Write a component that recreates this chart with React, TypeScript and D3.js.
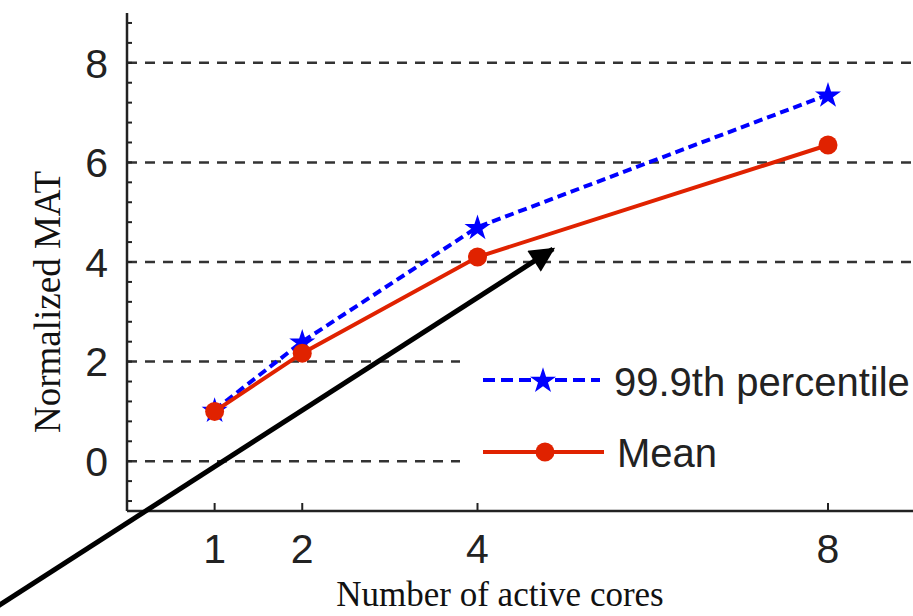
import React from "react";
import * as d3 from "d3";

const cores = [1, 2, 4, 8];
const p999 = [1.03, 2.4, 4.7, 7.36];
const mean = [1.0, 2.17, 4.1, 6.35];
const yTicks = [0, 2, 4, 6, 8];
const seriesNames = ["99.9th percentile", "Mean"];

const W = 913;
const H = 616;

const App = () => {
  const x = d3.scaleLinear().domain([0, 8]).range([127, 828]);
  const y = d3.scaleLinear().domain([-1, 9]).range([511, 13]);

  const line = d3
    .line<number>()
    .x((d, i) => x(cores[i]))
    .y((d) => y(d));

  const star = d3.symbol(d3.symbolStar, 210)();
  const minor = d3.range(-2, 23).map((k) => k * 0.4).filter((v) => v > -1 && v < 9);

  const tickFont = "'Liberation Sans', Arial, sans-serif";
  const serif = "'Liberation Serif', 'Times New Roman', serif";
  const blue = "#0000ff";
  const red = "#e02200";

  return (
    <svg width={W} height={H} style={{ position: "absolute", left: 0, top: 0 }}>
      <defs>
        <marker id="head" viewBox="0 0 10 10" refX="9" refY="5" markerWidth="5.5" markerHeight="5" orient="auto" markerUnits="strokeWidth">
          <path d="M0,0 L10,5 L0,10 z" fill="#000" />
        </marker>
      </defs>
      <rect width={W} height={H} fill="#fff" />

      {/* grid */}
      {yTicks.map((t) => (
        <line key={t} x1={x(0)} x2={W} y1={y(t)} y2={y(t)} stroke="#333" strokeWidth={2.5} strokeDasharray="10,8" />
      ))}

      {/* legend box covers grid */}
      <rect x={460} y={325} width={W - 460} height={170} fill="#fff" />

      {/* axes */}
      <line x1={x(0)} x2={x(0)} y1={y(9)} y2={y(-1)} stroke="#222" strokeWidth={2.5} />
      <line x1={x(0)} x2={W} y1={y(-1)} y2={y(-1)} stroke="#222" strokeWidth={2.5} />
      {minor.map((v, i) => (
        <line key={i} x1={x(0)} x2={x(0) + 5} y1={y(v)} y2={y(v)} stroke="#222" strokeWidth={2} />
      ))}
      {yTicks.map((t) => (
        <text key={t} x={108} y={y(t)} dy="0.36em" textAnchor="end" fontFamily={tickFont} fontSize={41} fill="#222">
          {t}
        </text>
      ))}
      {cores.map((c) => (
        <g key={c}>
          <line x1={x(c)} x2={x(c)} y1={y(-1)} y2={y(-1) - 8} stroke="#222" strokeWidth={2} />
          <text x={x(c)} y={563} textAnchor="middle" fontFamily={tickFont} fontSize={41} fill="#222">
            {c}
          </text>
        </g>
      ))}

      {/* axis titles */}
      <text x={500} y={606} textAnchor="middle" fontFamily={serif} fontSize={35} fill="#111">
        Number of active cores
      </text>
      <text transform={`translate(60,302) rotate(-90)`} textAnchor="middle" fontFamily={serif} fontSize={37} fill="#111">
        Normalized MAT
      </text>

      {/* series */}
      <path d={line(p999) || ""} fill="none" stroke={blue} strokeWidth={4} strokeDasharray="9,5" />
      {p999.map((v, i) => (
        <path key={i} d={star || ""} transform={`translate(${x(cores[i])},${y(v) + 1})`} fill={blue} />
      ))}
      <path d={line(mean) || ""} fill="none" stroke={red} strokeWidth={4} />
      {mean.map((v, i) => (
        <circle key={i} cx={x(cores[i])} cy={y(v)} r={9.5} fill={red} />
      ))}

      {/* legend */}
      <line x1={483} x2={600} y1={380} y2={380} stroke={blue} strokeWidth={4} strokeDasharray="12,6" />
      <path d={star || ""} transform="translate(543,381)" fill={blue} />
      <text x={614} y={382} dy="0.36em" fontFamily={tickFont} fontSize={40} fill="#222">
        {seriesNames[0]}
      </text>
      <line x1={483} x2={604} y1={452} y2={452} stroke={red} strokeWidth={4} />
      <circle cx={545} cy={452} r={9.5} fill={red} />
      <text x={617} y={453} dy="0.36em" fontFamily={tickFont} fontSize={40} fill="#222">
        {seriesNames[1]}
      </text>

      {/* annotation arrow */}
      <line x1={-2} y1={606} x2={553} y2={249} stroke="#000" strokeWidth={5} markerEnd="url(#head)" />
    </svg>
  );
};

export default App;
